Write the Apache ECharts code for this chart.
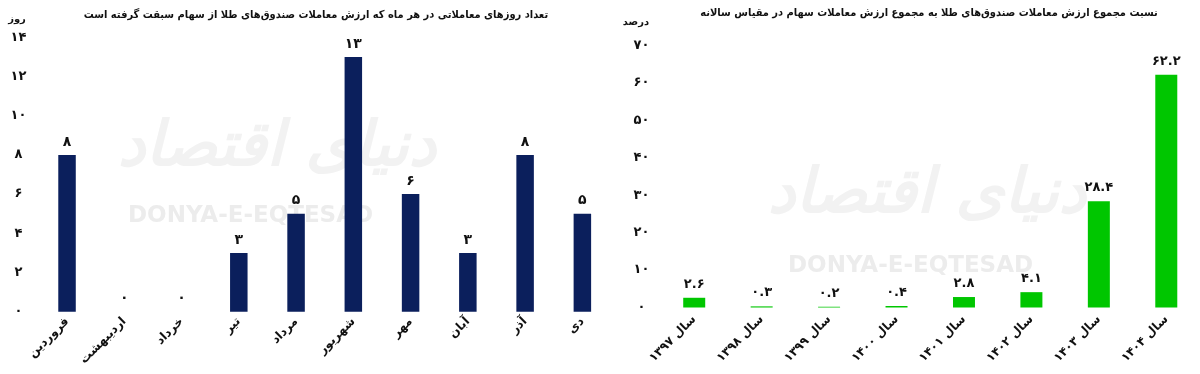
<!DOCTYPE html>
<html>
<head>
<meta charset="utf-8">
<script src="https://cdn.jsdelivr.net/npm/echarts@6/dist/echarts.min.js"></script>
<style>
html,body{margin:0;padding:0;background:#fff;}
#c{width:1200px;height:374px;}
</style>
</head>
<body>
<div id="c"></div>
<script>
// ---- data ----
const monthCategories = ['فروردین','اردیبهشت','خرداد','تیر','مرداد','شهریور','مهر','آبان','آذر','دی'];
const monthDays = [8, 0, 0, 3, 5, 13, 6, 3, 8, 5];
const yearCategories = ['سال ۱۳۹۷','سال ۱۳۹۸','سال ۱۳۹۹','سال ۱۴۰۰','سال ۱۴۰۱','سال ۱۴۰۲','سال ۱۴۰۳','سال ۱۴۰۴'];
const yearShare = [2.6, 0.3, 0.2, 0.4, 2.8, 4.1, 28.4, 62.2];
const leftTitle = 'تعداد روزهای معاملاتی در هر ماه که ارزش معاملات صندوق‌های طلا از سهام سبقت گرفته است';
const rightTitle = 'نسبت مجموع ارزش معاملات صندوق‌های طلا به مجموع ارزش معاملات سهام در مقیاس سالانه';
const leftUnit = 'روز';
const rightUnit = 'درصد';

const FA = '۰۱۲۳۴۵۶۷۸۹';
const fa = v => String(v).replace(/\d/g, d => FA[d]);
const rtl = s => '\u202B' + s + '\u202C';
const FONT = 'DejaVu Sans';

const chart = echarts.init(document.getElementById('c'));
const labelBase = {fontFamily: FONT, fontWeight: 'bold', color: '#111', fontSize: 12};

chart.setOption({
  backgroundColor: '#fff',
  animation: false,
  textStyle: {fontFamily: FONT},
  graphic: [
    {type:'text', left: 118, top: 118, style:{text:'دنیای اقتصاد', font:'italic bold 62px "DejaVu Sans"', fill:'#f2f2f2'}, z:-1},
    {type:'text', left: 128, top: 205, style:{text:'DONYA-E-EQTESAD', font:'bold 23px "DejaVu Sans"', fill:'#ececec'}, z:-1},
    {type:'text', left: 768, top: 165, style:{text:'دنیای اقتصاد', font:'italic bold 62px "DejaVu Sans"', fill:'#f2f2f2'}, z:-1},
    {type:'text', left: 788, top: 255, style:{text:'DONYA-E-EQTESAD', font:'bold 23px "DejaVu Sans"', fill:'#ececec'}, z:-1},
    {type:'text', x: 316, y: 10, style:{text: leftTitle, font:'bold 11px "DejaVu Sans Condensed", "DejaVu Sans"', fill:'#111', textAlign:'center'}},
    {type:'text', x: 929, y: 8, style:{text: rightTitle, font:'bold 11px "DejaVu Sans Condensed", "DejaVu Sans"', fill:'#111', textAlign:'center'}},
    {type:'text', x: 17, y: 14, style:{text: leftUnit, font:'bold 10px "DejaVu Sans"', fill:'#111', textAlign:'center'}},
    {type:'text', x: 636, y: 17, style:{text: rightUnit, font:'bold 10px "DejaVu Sans"', fill:'#111', textAlign:'center'}}
  ],
  grid: [
    {left: 38.4, width: 572.6, top: 37.3, height: 274.4},
    {left: 660.5, width: 552, top: 45.7, height: 261.8}
  ],
  xAxis: [
    {type:'category', gridIndex:0, data: monthCategories,
     axisLine:{show:false}, axisTick:{show:false},
     axisLabel: Object.assign({}, labelBase, {rotate:45, margin:8, interval:0, fontSize:12})},
    {type:'category', gridIndex:1, data: yearCategories,
     axisLine:{show:false}, axisTick:{show:false},
     axisLabel: Object.assign({}, labelBase, {rotate:45, margin:10, interval:0, fontSize:12, formatter: v => rtl(v)})}
  ],
  yAxis: [
    {type:'value', gridIndex:0, min:0, max:14, interval:2,
     axisLine:{show:false}, axisTick:{show:false}, splitLine:{show:false},
     axisLabel: Object.assign({}, labelBase, {align:'center', margin:20, fontSize:13, formatter: v => fa(v)})},
    {type:'value', gridIndex:1, min:0, max:70, interval:10,
     axisLine:{show:false}, axisTick:{show:false}, splitLine:{show:false},
     axisLabel: Object.assign({}, labelBase, {align:'center', margin:19, fontSize:13, formatter: v => fa(v)})}
  ],
  series: [
    {type:'bar', xAxisIndex:0, yAxisIndex:0, data: monthDays, barWidth: 17.5,
     itemStyle:{color:'#0b1f5c'},
     label:{show:true, position:'top', distance:6, fontFamily:FONT, fontWeight:'bold', fontSize:14, color:'#111', formatter: p => fa(p.value)}},
    {type:'bar', xAxisIndex:1, yAxisIndex:1, data: yearShare, barWidth: 22,
     itemStyle:{color:'#00c600'},
     label:{show:true, position:'top', distance:7, fontFamily:FONT, fontWeight:'bold', fontSize:13, color:'#111', formatter: p => fa(p.value)}}
  ]
});
</script>
</body>
</html>
